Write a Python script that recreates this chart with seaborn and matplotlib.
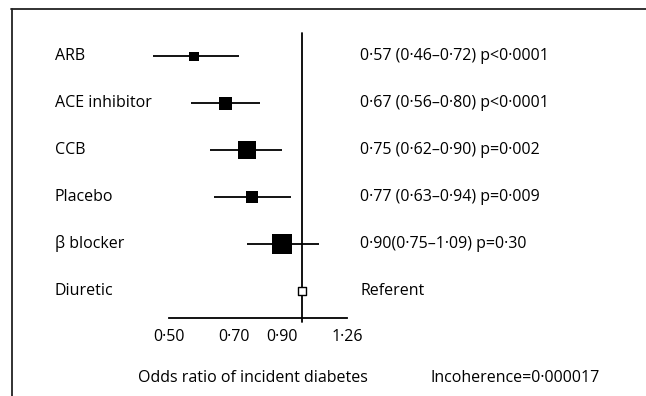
import pandas as pd
import matplotlib.pyplot as plt
import matplotlib.transforms as mtransforms
from matplotlib.lines import Line2D
from matplotlib.ticker import FixedLocator, FixedFormatter, NullLocator
import seaborn as sns

treatments = ['ARB', 'ACE inhibitor', 'CCB', 'Placebo', 'β blocker', 'Diuretic']
odds_ratio = [0.57, 0.67, 0.75, 0.77, 0.90, 1.00]
ci_low = [0.46, 0.56, 0.62, 0.63, 0.75, 1.00]
ci_high = [0.72, 0.80, 0.90, 0.94, 1.09, 1.00]
result_text = ['0·57 (0·46–0·72) p<0·0001',
               '0·67 (0·56–0·80) p<0·0001',
               '0·75 (0·62–0·90) p=0·002',
               '0·77 (0·63–0·94) p=0·009',
               '0·90(0·75–1·09) p=0·30',
               'Referent']
tick_values = [0.50, 0.70, 0.90, 1.26]
tick_labels = ['0·50', '0·70', '0·90', '1·26']

# box area for each active treatment (the referent gets an open square)
box_area = [48, 85, 170, 78, 205]

sns.set_style('white')
plt.rcParams['font.family'] = ['Open Sans', 'DejaVu Sans']
plt.rcParams['text.color'] = 'black'
plt.rcParams['xtick.color'] = 'black'
fs = 11.5

df = pd.DataFrame({'treatment': treatments, 'or': odds_ratio,
                   'lo': ci_low, 'hi': ci_high})
df['pos'] = range(len(df))
active = df.iloc[:-1]
ref = df.iloc[-1:]

W, H = 646, 396
fig = plt.figure(figsize=(W / 100, H / 100), dpi=100)
# axes box in pixels: x 169..347, y 33..318 (from top)
ax = fig.add_axes([169 / W, 1 - 318 / H, (347 - 169) / W, (318 - 33) / H])

ax.hlines(active['pos'], active['lo'], active['hi'], color='black', lw=1.3,
          clip_on=False)
sns.scatterplot(data=active, x='or', y='pos', marker='s', s=box_area,
                color='black', linewidth=0, ax=ax, legend=False, zorder=3,
                clip_on=False)
sns.scatterplot(data=ref, x='or', y='pos', marker='s', s=36,
                facecolor='white', edgecolor='black', linewidth=1.0,
                ax=ax, legend=False, zorder=4, clip_on=False)
ax.axvline(1.0, ymin=-0.015, ymax=1, color='black', lw=1.3, clip_on=False, zorder=2)

ax.set_xscale('log')
ax.set_xlim(0.50, 1.26)
ax.set_ylim(5.58, -0.5)
ax.xaxis.set_major_locator(FixedLocator(tick_values))
ax.xaxis.set_major_formatter(FixedFormatter(tick_labels))
ax.xaxis.set_minor_locator(NullLocator())
ax.set_yticks([])
ax.tick_params(axis='x', direction='in', length=5, width=1.1, labelsize=fs, pad=8)
for s in ['top', 'right', 'left']:
    ax.spines[s].set_visible(False)
ax.spines['bottom'].set_linewidth(1.3)
ax.spines['bottom'].set_color('black')
ax.set_xlabel('')
ax.set_ylabel('')

trans = mtransforms.blended_transform_factory(fig.transFigure, ax.transData)
for i, row in df.iterrows():
    ax.text(55 / W, row['pos'], row['treatment'], transform=trans,
            ha='left', va='center', fontsize=fs)
    ax.text(360 / W, row['pos'], result_text[i], transform=trans,
            ha='left', va='center', fontsize=fs)

fig.text(253 / W, 1 - 378 / H, 'Odds ratio of incident diabetes',
         ha='center', va='center', fontsize=fs)
fig.text(430 / W, 1 - 378 / H, 'Incoherence=0·000017',
         ha='left', va='center', fontsize=fs)

# open frame (top and left edges only)
fig.add_artist(Line2D([11 / W, 1], [1 - 9 / H, 1 - 9 / H], color='#222222', lw=1.3))
fig.add_artist(Line2D([12 / W, 12 / W], [0, 1 - 9 / H], color='#222222', lw=1.3))

fig.savefig('out.png', dpi=100)
